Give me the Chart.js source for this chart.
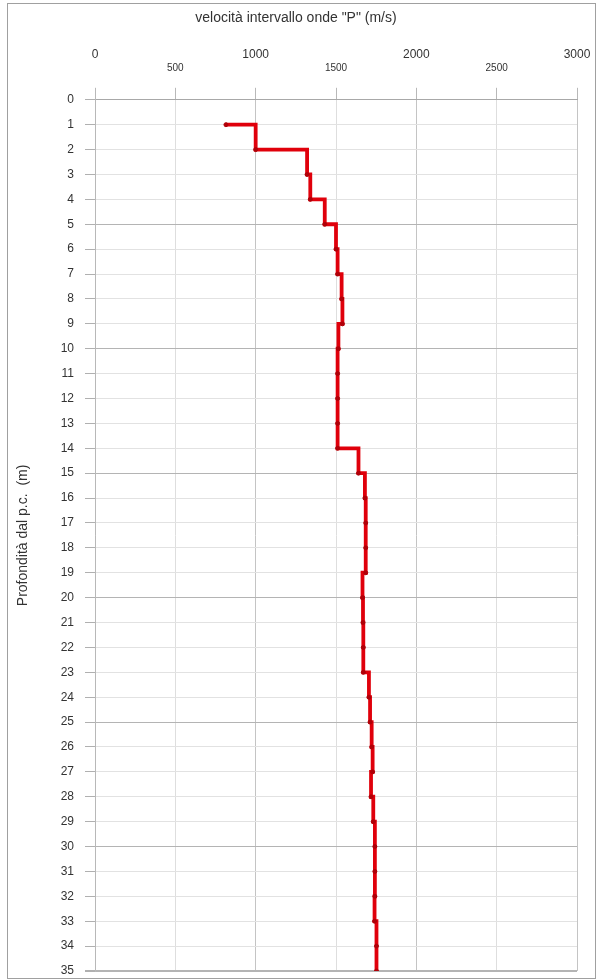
<!DOCTYPE html>
<html>
<head>
<meta charset="utf-8">
<script src="https://cdn.jsdelivr.net/npm/chart.js@4/dist/chart.umd.min.js"></script>
<style>
    html, body { margin: 0; padding: 0; background: #fff; }
    .frame { position: absolute; left: 7px; top: 3px; width: 587px; height: 974px; border: 1px solid #a0a0a0; }
    .wrap { position: absolute; left: 0; top: 0; width: 598px; height: 980px; }
</style>
</head>
<body>
<div class="frame"></div>
<div class="wrap"><canvas id="vpChart" width="598" height="980"></canvas></div>
<script>
// depth (m) and interval velocity (m/s)
const depths = [1, 2, 3, 4, 5, 6, 7, 8, 9, 10, 11, 12, 13, 14, 15, 16, 17, 18,
    19, 20, 21, 22, 23, 24, 25, 26, 27, 28, 29, 30, 31, 32, 33, 34, 35];
const velocities = [815, 1000, 1320, 1340, 1430, 1500, 1510, 1535, 1540, 1515, 1510, 1510, 1510, 1510,
    1640, 1680, 1685, 1685, 1685, 1665, 1668, 1670, 1670, 1705, 1712, 1722, 1728, 1718,
    1732, 1742, 1742, 1742, 1740, 1752, 1752];
const majorTicks = [0, 1000, 2000, 3000];   // big labels
const minorTicks = [500, 1500, 2500];       // small labels
const xTitle = 'velocità intervallo onde "P" (m/s)';
const yTitle = 'Profondità dal p.c.  (m)';

const points = depths.map((d, i) => ({ x: velocities[i], y: d }));
const textColor = '#333';
const fontFamily = '"Liberation Sans", Arial, sans-serif';

const ctx = document.getElementById('vpChart').getContext('2d');
new Chart(ctx, {
    type: 'line',
    data: {
        datasets: [{
            label: 'Vp',
            data: points,
            borderColor: '#e0000b',
            borderWidth: 3.8,
            stepped: true,
            pointRadius: 2,
            pointBackgroundColor: '#b00008',
            pointBorderColor: '#b00008',
            pointBorderWidth: 1,
            fill: false
        }]
    },
    options: {
        responsive: false,
        animation: false,
        layout: { padding: { top: 4, left: 15, right: 21, bottom: 9 } },
        plugins: {
            legend: { display: false },
            tooltip: { enabled: false },
            title: {
                display: true,
                text: xTitle,
                color: textColor,
                font: { family: fontFamily, size: 14, weight: 'normal' },
                padding: { top: 6, bottom: 4 }
            }
        },
        scales: {
            // small labels (500, 1500, 2500) plus all grid lines
            x: {
                type: 'linear',
                position: 'top',
                min: 0,
                max: 3000,
                weight: 0,
                afterFit: s => { s.height = 38; },
                ticks: {
                    stepSize: 500,
                    color: textColor,
                    padding: 14,
                    maxRotation: 0,
                    font: { family: fontFamily, size: 10 },
                    callback: v => minorTicks.includes(v) ? String(v) : ''
                },
                grid: {
                    color: ctx => (ctx.tick && ctx.tick.value % 1000 === 0) ? '#c4c4c4' : '#dedede',
                    tickColor: '#b8b8b8',
                    tickLength: 12
                },
                border: { display: true, color: '#a8a8a8', width: 1 }
            },
            // big labels (0, 1000, 2000, 3000)
            x2: {
                type: 'linear',
                position: 'top',
                min: 0,
                max: 3000,
                weight: 1,
                afterFit: s => { s.height = 31; },
                ticks: {
                    stepSize: 1000,
                    color: textColor,
                    padding: 0,
                    maxRotation: 0,
                    font: { family: fontFamily, size: 12 },
                    callback: v => majorTicks.includes(v) ? String(v) : ''
                },
                grid: { display: false, drawTicks: false },
                border: { display: false }
            },
            y: {
                type: 'linear',
                reverse: true,
                min: 0,
                max: 35,
                afterFit: s => {
                    s.width = 80;
                    s.paddingTop = 0;
                    s.paddingBottom = 0;
                },
                title: {
                    display: true,
                    text: yTitle,
                    color: textColor,
                    font: { family: fontFamily, size: 14 },
                    padding: { top: 0, bottom: 0 }
                },
                ticks: {
                    stepSize: 1,
                    color: textColor,
                    padding: 11,
                    font: { family: fontFamily, size: 12 }
                },
                grid: {
                    color: ctx => {
                        const v = ctx.tick ? ctx.tick.value : 0;
                        return v % 5 === 0 ? '#b4b4b4' : '#e2e2e2';
                    },
                    lineWidth: ctx => (ctx.tick && ctx.tick.value === 35) ? 2 : 1,
                    tickColor: '#b0b0b0',
                    tickLength: 10
                },
                border: { display: true, color: '#b8b8b8', width: 1 }
            }
        }
    }
});
</script>
</body>
</html>
